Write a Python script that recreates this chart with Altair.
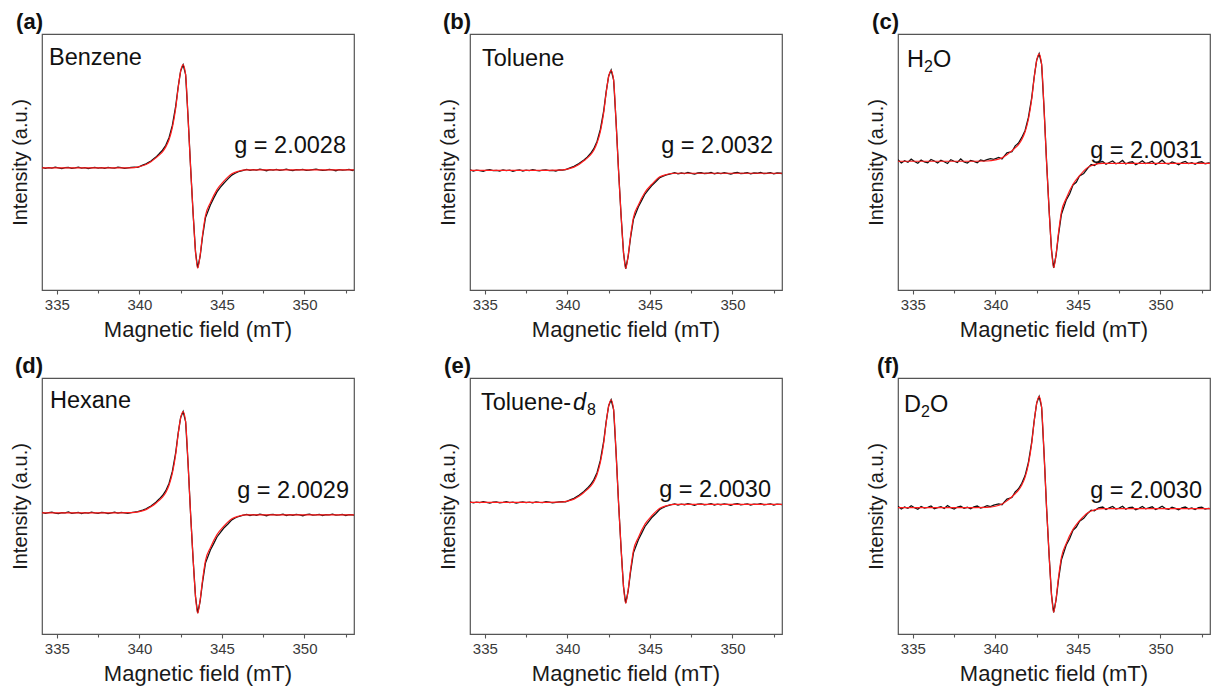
import altair as alt
import pandas as pd

# ---------------- data ----------------
X_DOMAIN = [334.1, 353.0]
Y_DOMAIN = [0, 100]
MAJOR_TICKS = [335, 340, 345, 350]
MINOR_TICKS = [337.5, 342.5, 347.5, 352.5]

PANEL_KEYS = ["(a)", "(b)", "(c)", "(d)", "(e)", "(f)"]
G_LABELS = ["g = 2.0028", "g = 2.0032", "g = 2.0031", "g = 2.0029", "g = 2.0030", "g = 2.0030"]

# fitted (red) curves
FIELD_FIT = [334.1, 336.0, 338.0, 339.5, 340.0, 340.4, 340.7, 341.0, 341.2, 341.4, 341.6, 341.8,
             342.0, 342.2, 342.35, 342.5, 342.65, 342.8, 342.95, 343.1, 343.25, 343.4, 343.53,
             343.68, 343.82, 344.0, 344.3, 344.7, 345.1, 345.6, 346.0, 346.5, 348.0, 350.0, 353.0]

FIT_A = [47.7, 47.7, 47.7, 47.7, 48.2, 49.0, 50.1, 51.6, 52.7, 54.0, 55.9, 58.8, 63.5, 71.0, 79.0, 85.5,
         88.0, 84.0, 67.0, 48.0, 30.5, 15.0, 8.5, 13.6, 21.3, 29.0, 34.1, 39.2, 42.4, 45.4, 46.4, 46.9,
         46.9, 46.9, 46.9]
FIT_B = [46.7, 46.7, 46.7, 46.8, 47.2, 48.0, 49.0, 50.5, 51.5, 52.8, 54.6, 57.5, 62.0, 69.3, 77.1, 83.4,
         85.8, 81.9, 65.4, 46.4, 29.5, 14.8, 8.4, 13.4, 20.8, 28.3, 33.2, 38.2, 41.2, 44.2, 45.1, 45.6,
         45.6, 45.6, 45.6]
FIT_C = [50.3, 50.3, 50.3, 50.4, 50.8, 51.6, 52.8, 54.4, 55.5, 56.8, 58.8, 61.8, 66.7, 74.5, 82.9, 89.6,
         92.2, 88.0, 70.4, 50.0, 31.8, 15.7, 8.7, 14.2, 22.2, 30.5, 35.9, 41.3, 44.7, 47.9, 49.0, 49.5,
         49.5, 49.5, 49.5]
FIT_D = [47.3, 47.3, 47.3, 47.4, 47.8, 48.6, 49.7, 51.1, 52.2, 53.5, 55.3, 58.2, 62.8, 70.2, 78.1, 84.4,
         86.9, 82.9, 66.3, 47.0, 29.8, 14.7, 8.1, 13.3, 20.8, 28.6, 33.7, 38.8, 42.0, 45.0, 46.0, 46.5,
         46.5, 46.5, 46.5]
FIT_E = [51.4, 51.4, 51.4, 51.5, 51.9, 52.7, 53.8, 55.3, 56.4, 57.7, 59.5, 62.4, 67.1, 74.6, 82.6, 89.0,
         91.5, 87.5, 70.6, 51.1, 33.8, 18.6, 12.0, 17.2, 24.8, 32.6, 37.7, 42.9, 46.1, 49.1, 50.1, 50.6,
         50.6, 50.6, 50.6]
FIT_F = [49.4, 49.4, 49.4, 49.5, 49.9, 50.8, 52.0, 53.6, 54.8, 56.2, 58.2, 61.3, 66.4, 74.4, 83.0, 90.0,
         92.7, 88.4, 70.1, 49.2, 31.4, 15.4, 8.5, 14.0, 21.9, 29.9, 35.5, 40.9, 44.3, 47.4, 48.5, 49.0,
         49.0, 49.0, 49.0]

# experimental (black) spectra
FIELD_EXP = [334.1, 334.3, 334.5, 334.7, 334.9, 335.1, 335.3, 335.5, 335.7, 335.9,
             336.1, 336.3, 336.5, 336.7, 336.9, 337.1, 337.3, 337.5, 337.7, 337.9,
             338.1, 338.3, 338.5, 338.7, 338.9, 339.1, 339.3, 339.5, 339.7, 339.9,
             340.2, 340.4, 340.7, 341.0, 341.2, 341.4, 341.6, 341.8, 342.0, 342.2,
             342.35, 342.5, 342.65, 342.8, 342.95, 343.1, 343.25, 343.4, 343.53, 343.68,
             343.82, 344.0, 344.3, 344.5, 344.7, 344.9, 345.1, 345.35, 345.6, 345.8,
             346.0, 346.25,
             346.5, 346.7, 346.9, 347.1, 347.3, 347.5, 347.7, 347.9, 348.1, 348.3,
             348.5, 348.7, 348.9, 349.1, 349.3, 349.5, 349.7, 349.9, 350.1, 350.3,
             350.5, 350.7, 350.9, 351.1, 351.3, 351.5, 351.7, 351.9, 352.1, 352.3,
             352.5, 352.7, 352.9, 353.0]

EXP_A = [47.9, 47.5, 47.8, 47.6, 48.0, 47.7, 47.4, 47.8, 47.9, 47.5, 47.7, 48.0, 47.6, 47.8, 47.4,
         47.7, 47.9, 47.6, 47.8, 47.5, 47.9, 47.7, 47.6, 48.0, 47.8, 47.5, 47.7, 47.9, 48.0, 47.9,
         48.8, 49.3, 50.4, 51.9, 53.2, 54.6, 56.5, 59.6, 64.4, 71.8, 79.4, 85.6, 88.0, 84.2, 67.3,
         48.2, 30.3, 14.8, 8.6, 13.2, 20.6, 28.2, 33.2, 35.9, 38.3, 40.1, 41.6, 43.3, 44.9, 45.6,
         46.2, 46.6,
         47.1, 46.7, 47.0, 46.8, 47.2, 46.9, 46.6, 47.0, 46.8, 47.1, 46.7, 46.9, 47.2, 46.8, 46.6,
         47.0, 46.9, 47.1, 46.7, 46.8, 47.0, 47.2, 46.9, 46.7, 46.8, 47.1, 46.9, 46.6, 47.0, 46.8,
         46.9, 47.1, 46.7, 46.9]
EXP_B = [46.9, 46.5, 46.8, 46.6, 46.4, 46.8, 47.0, 46.6, 46.7, 46.5, 46.9, 46.6, 46.8, 46.4, 46.7,
         46.9, 46.5, 46.8, 46.6, 47.0, 46.7, 46.5, 46.8, 46.9, 46.6, 46.7, 46.5, 46.9, 46.8, 47.0,
         47.8, 48.3, 49.4, 50.8, 51.9, 53.3, 55.2, 58.1, 62.8, 70.0, 77.5, 83.6, 85.9, 82.1, 65.6,
         46.6, 29.3, 14.5, 8.3, 13.0, 20.2, 27.6, 32.5, 35.0, 37.5, 39.1, 40.7, 42.3, 43.9, 44.5,
         45.0, 45.4,
         45.8, 45.4, 45.7, 45.5, 45.9, 45.6, 45.3, 45.7, 45.8, 45.5, 45.6, 45.9, 45.4, 45.7, 45.5,
         45.8, 45.6, 45.3, 45.7, 45.9, 45.5, 45.6, 45.8, 45.4, 45.7, 45.6, 45.9, 45.5, 45.6, 45.8,
         45.4, 45.7, 45.6, 45.5]
EXP_C = [50.9, 49.6, 50.5, 49.9, 51.1, 50.2, 49.5, 50.8, 50.0, 49.7, 51.0, 50.4, 49.6, 50.7, 50.1,
         49.4, 50.9, 50.3, 49.8, 51.2, 50.0, 49.6, 50.6, 50.2, 49.7, 50.8, 50.4, 50.9, 51.3, 51.0,
         51.8, 51.2, 53.6, 54.0, 56.3, 57.4, 59.6, 62.3, 67.4, 75.1, 83.2, 89.8, 92.3, 88.2, 70.6,
         50.1, 31.6, 15.5, 8.6, 13.7, 21.4, 29.6, 35.3, 37.6, 41.0, 42.1, 44.6, 45.5, 47.6, 49.0,
         48.6, 49.9,
         50.2, 49.1, 49.8, 50.4, 49.3, 49.7, 50.6, 49.2, 49.9, 50.1, 48.9, 49.6, 50.5, 49.4, 49.8,
         50.3, 49.0, 49.7, 50.7, 49.5, 49.2, 50.0, 49.6, 48.9, 49.8, 50.2, 49.4, 49.7, 49.1, 49.9,
         50.1, 49.3, 49.6, 49.5]
EXP_D = [47.5, 47.1, 47.4, 47.6, 47.2, 47.0, 47.4, 47.3, 47.7, 47.1, 47.3, 47.5, 47.0, 47.4, 47.2,
         47.6, 47.3, 47.1, 47.5, 47.4, 47.0, 47.3, 47.6, 47.2, 47.5, 47.3, 47.1, 47.4, 47.6, 47.8,
         48.4, 48.9, 50.0, 51.5, 52.7, 54.1, 56.0, 58.9, 63.6, 70.9, 78.5, 84.6, 86.9, 83.0, 66.5,
         47.1, 29.6, 14.5, 8.2, 12.8, 20.0, 27.7, 32.8, 35.3, 37.9, 39.6, 41.3, 42.9, 44.6, 45.3,
         45.9, 46.3,
         46.7, 46.3, 46.6, 46.4, 46.8, 46.5, 46.2, 46.6, 46.7, 46.4, 46.5, 46.8, 46.3, 46.6, 46.4,
         46.7, 46.5, 46.2, 46.6, 46.8, 46.4, 46.5, 46.7, 46.3, 46.6, 46.5, 46.8, 46.4, 46.5, 46.7,
         46.3, 46.6, 46.5, 46.4]
EXP_E = [51.6, 51.2, 51.5, 51.3, 51.7, 51.4, 51.1, 51.5, 51.6, 51.2, 51.4, 51.7, 51.3, 51.5, 51.1,
         51.4, 51.6, 51.3, 51.5, 51.2, 51.6, 51.4, 51.3, 51.7, 51.5, 51.2, 51.4, 51.6, 51.7, 51.6,
         52.5, 53.0, 54.2, 55.7, 56.9, 58.3, 60.2, 63.1, 67.9, 75.3, 83.0, 89.2, 91.5, 87.7, 70.8,
         51.2, 33.6, 18.4, 12.1, 16.7, 24.0, 31.7, 36.8, 39.4, 42.0, 43.7, 45.4, 47.0, 48.7, 49.4,
         50.0, 50.4,
         50.8, 50.4, 50.7, 50.5, 50.9, 50.6, 50.3, 50.7, 50.8, 50.5, 50.6, 50.9, 50.4, 50.7, 50.5,
         50.8, 50.6, 50.3, 50.7, 50.9, 50.5, 50.6, 50.8, 50.4, 50.7, 50.6, 50.9, 50.5, 50.6, 50.8,
         50.4, 50.7, 50.6, 50.5]
EXP_F = [49.9, 48.8, 49.6, 49.1, 50.1, 49.3, 48.7, 49.8, 49.2, 49.5, 50.0, 48.9, 49.4, 49.7, 49.0,
         50.2, 49.3, 48.8, 49.6, 49.9, 49.1, 49.5, 48.9, 49.7, 50.0, 49.2, 49.6, 50.1, 49.8, 50.3,
         50.8, 50.5, 52.7, 53.3, 55.5, 56.7, 58.9, 61.9, 67.0, 75.0, 83.3, 90.2, 92.8, 88.6, 70.3,
         49.3, 31.2, 15.2, 8.4, 13.5, 21.1, 29.0, 34.9, 37.3, 40.5, 41.8, 44.1, 45.2, 47.2, 48.4,
         48.1, 49.3,
         49.6, 48.6, 49.3, 49.8, 48.8, 49.2, 49.9, 48.7, 49.4, 49.5, 48.5, 49.1, 49.8, 48.9, 49.3,
         49.7, 48.6, 49.2, 49.9, 49.0, 48.7, 49.5, 49.1, 48.5, 49.3, 49.6, 48.9, 49.2, 48.6, 49.4,
         49.5, 48.8, 49.1, 49.0]

FITS = [FIT_A, FIT_B, FIT_C, FIT_D, FIT_E, FIT_F]
EXPS = [EXP_A, EXP_B, EXP_C, EXP_D, EXP_E, EXP_F]

# solvent labels split into rich-text pieces: (text, kind)
SOLVENT_PARTS = [
    [("Benzene", "n")],
    [("Toluene", "n")],
    [("H", "n"), ("2", "sub"), ("O", "n")],
    [("Hexane", "n")],
    [("Toluene-", "n"), ("d", "it"), ("8", "sub")],
    [("D", "n"), ("2", "sub"), ("O", "n")],
]
X_TITLE = "Magnetic field (mT)"

# ---------------- layout / style (not data) ----------------
FONT = "Liberation Sans"
W, H = 312, 256
MAIN_FS = 23.5
SUB_FS = 16
PIECE_DX = [[7], [12], [9, 26, 35], [8], [11, 103, 117], [6, 23, 32]]
LABEL_Y = [31, 32, 33, 30, 32, 34]
G_DX = [-8, -9, -8, -5, -11, -8]
G_Y = [119, 119, 124, 120, 119, 120]


def panel(i):
    fit_df = pd.DataFrame({"field": FIELD_FIT, "intensity": FITS[i]})
    exp_df = pd.DataFrame({"field": FIELD_EXP, "intensity": EXPS[i]})
    xscale = alt.Scale(domain=X_DOMAIN, nice=False, zero=False)
    yscale = alt.Scale(domain=Y_DOMAIN, nice=False, zero=False)
    yaxis = alt.Axis(title="Intensity (a.u.)", labels=False, ticks=False, domain=False, grid=False,
                     titleFontSize=20, titleFont=FONT, titleFontWeight="normal", titleColor="#1a1a1a",
                     titlePadding=12)
    major = alt.Axis(values=MAJOR_TICKS, format="d", title=None, orient="bottom",
                     domain=False, grid=False, tickSize=4, tickColor="#555555", tickWidth=1.1,
                     labelFont=FONT, labelFontSize=15, labelColor="#3a3a3a", labelPadding=3)
    minor = alt.Axis(values=MINOR_TICKS, labels=False, title=None, orient="bottom", domain=False,
                     grid=False, tickSize=3, tickColor="#555555", tickWidth=1.1)

    exp_line = alt.Chart(exp_df).mark_line(color="#111111", strokeWidth=1.3, clip=True).encode(
        x=alt.X("field:Q", scale=xscale, axis=major),
        y=alt.Y("intensity:Q", scale=yscale, axis=yaxis),
    )
    fit_line = alt.Chart(fit_df).mark_line(color="#ff1c1c", strokeWidth=1.2, interpolate="monotone",
                                           clip=True).encode(
        x=alt.X("field:Q", scale=xscale, axis=minor),
        y=alt.Y("intensity:Q", scale=yscale, axis=yaxis),
    )
    layers = [exp_line, fit_line]

    key = alt.Chart(pd.DataFrame({"t": [PANEL_KEYS[i]]})).mark_text(
        align="right", baseline="top", font=FONT, fontSize=22, fontWeight="bold", color="#111111"
    ).encode(text="t:N", x=alt.value(1), y=alt.value(-22))
    layers.append(key)

    for (txt, kind), dx in zip(SOLVENT_PARTS[i], PIECE_DX[i]):
        fs = SUB_FS if kind == "sub" else MAIN_FS
        dy = 5 if kind == "sub" else 0
        style = "italic" if kind == "it" else "normal"
        t = alt.Chart(pd.DataFrame({"t": [txt]})).mark_text(
            align="left", baseline="alphabetic", font=FONT, fontSize=fs, fontStyle=style, color="#111111"
        ).encode(text="t:N", x=alt.value(dx), y=alt.value(LABEL_Y[i] + dy))
        layers.append(t)

    g = alt.Chart(pd.DataFrame({"t": [G_LABELS[i]]})).mark_text(
        align="right", baseline="alphabetic", font=FONT, fontSize=MAIN_FS, color="#111111"
    ).encode(text="t:N", x=alt.value(W + G_DX[i]), y=alt.value(G_Y[i]))
    layers.append(g)

    xt = alt.Chart(pd.DataFrame({"t": [X_TITLE]})).mark_text(
        align="center", baseline="alphabetic", font=FONT, fontSize=22, color="#1a1a1a"
    ).encode(text="t:N", x=alt.value(W / 2), y=alt.value(H + 47))
    layers.append(xt)

    return alt.layer(*layers).resolve_axis(x="independent").properties(width=W, height=H)


chart = alt.concat(
    *[panel(i) for i in range(6)],
    columns=3,
    spacing={"row": 88, "column": 116},
    bounds="flush",
).configure(
    font=FONT,
    background="white",
    padding={"left": 1, "top": 2, "right": 0, "bottom": 0},
    view=alt.ViewConfig(stroke="#555555", strokeWidth=1.2),
)

chart.save("out.html", embed_options={"renderer": "svg", "actions": False})
